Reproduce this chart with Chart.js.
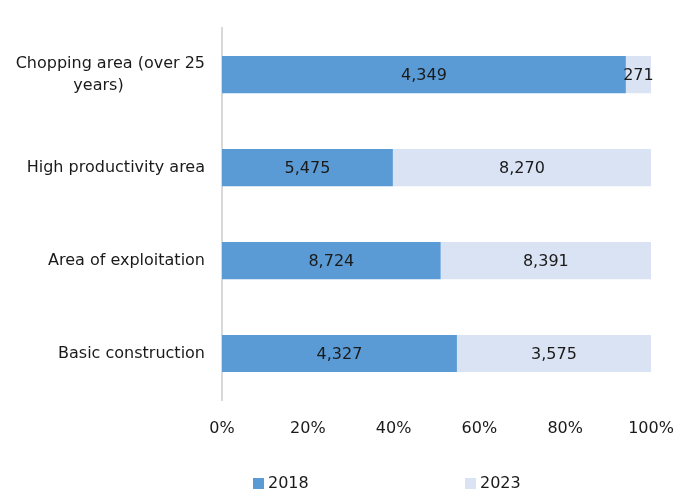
<!DOCTYPE html>
<html>
<head>
<meta charset="utf-8">
<script src="https://cdn.jsdelivr.net/npm/chart.js@4"></script>
<style>
  body { margin: 0; background: #fff; }
  #wrap { width: 676px; height: 493px; }
</style>
</head>
<body>
<div id="wrap"><canvas id="areaChart"></canvas></div>
<script>
const categories = [
  ["Chopping area (over 25", "years)                "],
  "High productivity area",
  "Area of exploitation",
  "Basic construction",
];
const values2018 = [4349, 5475, 8724, 4327];
const values2023 = [271, 8270, 8391, 3575];
const seriesNames = ["2018", "2023"];
const seriesColors = ["#5b9bd5", "#dae3f3"];
const tickLabels = ["0%", "20%", "40%", "60%", "80%", "100%"];

const FONT = "'DejaVu Sans', sans-serif";
const SIZE = 16;
const TEXT = "#1a1a1a";

// share of each row, the chart is a 100% stacked bar
const totals = values2018.map((v, i) => v + values2023[i]);
const pct2018 = values2018.map((v, i) => (v / totals[i]) * 100);
const pct2023 = values2023.map((v, i) => (v / totals[i]) * 100);
const rawValues = [values2018, values2023];

// value labels in the middle of each segment
const valueLabels = {
  id: "valueLabels",
  afterDatasetsDraw(chart) {
    const c = chart.ctx;
    c.save();
    c.font = SIZE + "px " + FONT;
    c.fillStyle = TEXT;
    c.textAlign = "center";
    c.textBaseline = "middle";
    chart.data.datasets.forEach((ds, di) => {
      chart.getDatasetMeta(di).data.forEach((bar, i) => {
        const x = (bar.x + bar.base) / 2;
        c.fillText(rawValues[di][i].toLocaleString("en-US"), x, bar.y + 1);
      });
    });
    c.restore();
  },
};

// legend drawn by hand so the two entries sit where they do in the original
const bottomLegend = {
  id: "bottomLegend",
  afterDraw(chart) {
    const c = chart.ctx;
    const area = chart.chartArea;
    const y = 483;
    const starts = [area.left + 31, area.left + 243];
    c.save();
    c.font = SIZE + "px " + FONT;
    c.textBaseline = "middle";
    seriesNames.forEach((name, i) => {
      c.fillStyle = seriesColors[i];
      c.fillRect(starts[i], y - 5, 11, 11);
      c.fillStyle = TEXT;
      c.fillText(name, starts[i] + 15, y + 1);
    });
    c.restore();
  },
};

const ctx = document.getElementById("areaChart").getContext("2d");

const areaChart = new Chart(ctx, {
  type: "bar",
  data: {
    labels: categories,
    datasets: [
      {
        label: seriesNames[0],
        data: pct2018,
        backgroundColor: seriesColors[0],
        borderWidth: 0,
        barPercentage: 0.4,
        categoryPercentage: 1,
      },
      {
        label: seriesNames[1],
        data: pct2023,
        backgroundColor: seriesColors[1],
        borderWidth: 0,
        barPercentage: 0.4,
        categoryPercentage: 1,
      },
    ],
  },
  options: {
    indexAxis: "y",
    responsive: true,
    maintainAspectRatio: false,
    animation: false,
    layout: {
      padding: { top: 28, right: 25, bottom: 0, left: 10 },
    },
    plugins: {
      legend: { display: false },
      tooltip: { enabled: false },
    },
    scales: {
      x: {
        stacked: true,
        min: 0,
        max: 100,
        afterBuildTicks(scale) {
          scale.ticks = tickLabels.map((t, i) => ({ value: i * 20 }));
        },
        afterFit(scale) {
          scale.height = 93;
          scale.paddingRight = 0;
          scale.paddingLeft = 0;
        },
        ticks: {
          padding: 19,
          color: TEXT,
          font: { family: FONT, size: SIZE },
          maxRotation: 0,
          callback: (v, i) => tickLabels[i],
        },
        grid: { display: false, drawTicks: false },
        border: { display: false },
      },
      y: {
        stacked: true,
        afterFit(scale) {
          scale.width = 212;
        },
        ticks: {
          padding: 17,
          color: TEXT,
          font: { family: FONT, size: SIZE, lineHeight: 1.4 },
        },
        grid: { display: false, drawTicks: false },
        border: { display: true, color: "#d9d9d9", width: 2 },
      },
    },
  },
  plugins: [valueLabels, bottomLegend],
});
</script>
</body>
</html>
